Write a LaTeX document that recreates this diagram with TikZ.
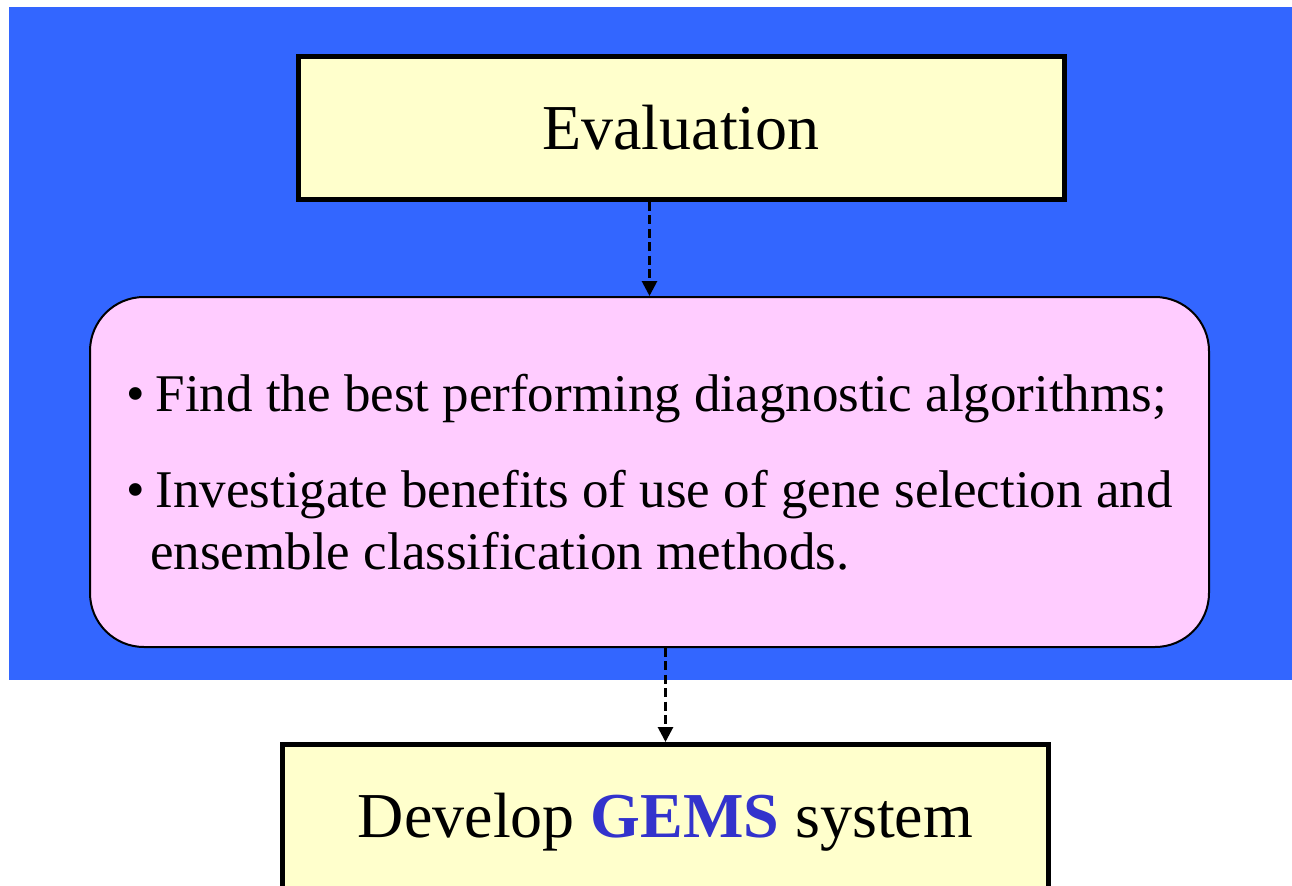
\documentclass[tikz,border=0pt]{standalone}
\usepackage{fontspec}
\setmainfont{Liberation Serif}
\usetikzlibrary{arrows.meta}
\definecolor{slideblue}{RGB}{51,102,255}
\definecolor{boxyellow}{RGB}{255,255,204}
\definecolor{goalpink}{RGB}{255,204,255}
\definecolor{gemsblue}{RGB}{51,51,204}

\begin{document}
\begin{tikzpicture}[x=0.5pt,y=-0.5pt,
  stagebox/.style={draw,line width=2.5pt,fill=boxyellow,minimum width=383pt,
    minimum height=71.5pt,font=\fontsize{32pt}{38pt}\selectfont},
  goalbox/.style={draw,line width=1pt,fill=goalpink,rounded corners=27pt,
    minimum width=559.5pt,minimum height=175pt,align=left,
    font=\fontsize{26.5pt}{31pt}\selectfont},
  flow/.style={line width=1.4pt,dash pattern=on 4.5pt off 2.2pt,
    -{Triangle[width=7.5pt,length=7.5pt]}}]
\useasboundingbox (0,0) rectangle (1292,885);
\clip (0,0) rectangle (1292,885);
\fill[slideblue] (9,7) rectangle (1292,680);
\node[stagebox] (eval) at (681,128) {Evaluation};
\node[goalbox] (goals) at (649.5,472)
  {\textbullet\kern0.2em Find the best performing diagnostic algorithms;\\[17pt]
   \textbullet\kern0.2em Investigate benefits of use of gene selection and\\
   \phantom{\textbullet}\kern0.1em ensemble classification methods.};
\node[stagebox,minimum height=77.5pt] (gems) at (665.5,822)
  {Develop \textcolor{gemsblue}{\bfseries GEMS} system};
\draw[flow] (eval.south -| goals.north) -- (goals.north);
\draw[flow] (goals.south -| gems.north) -- (gems.north);
\end{tikzpicture}
\end{document}
